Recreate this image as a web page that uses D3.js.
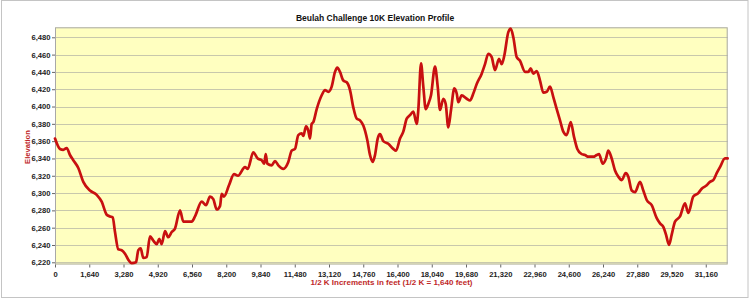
<!DOCTYPE html>
<html><head><meta charset="utf-8">
<script src="https://cdn.jsdelivr.net/npm/d3@7"></script>
<style>html,body{margin:0;padding:0;background:#fff;}svg{display:block;}</style>
</head><body>
<svg id="chart" width="750" height="299"></svg>
<script>
const title = "Beulah Challenge 10K Elevation Profile";
const xLabel = "1/2 K Increments in feet (1/2 K = 1,640 feet)";
const yLabel = "Elevation";
const xTicks = [0,1640,3280,4920,6560,8200,9840,11480,13120,14760,16400,18040,19680,21320,22960,24600,26240,27880,29520,31160];
const yTicks = [6220,6240,6260,6280,6300,6320,6340,6360,6380,6400,6420,6440,6460,6480];
const distance = [0,239,397,560,718,876,1116,1355,1676,1997,2236,2476,2634,2763,2873,3031,3193,3352,3510,3673,3878,3989,4103,4228,4391,4549,4707,4870,4994,5109,5267,5425,5588,5746,5986,6144,6546,6704,7025,7230,7422,7580,7743,7901,7982,8092,8331,8571,8763,9098,9227,9495,9706,9898,10022,10089,10166,10377,10534,10693,10932,11171,11334,11492,11650,11813,11890,12019,12129,12210,12291,12369,12531,12770,12929,13087,13249,13407,13518,13647,13805,13968,14126,14284,14447,14605,14763,14955,15083,15213,15323,15452,15562,15720,15960,16199,16328,16520,16678,16841,16999,17157,17319,17396,17526,17636,17751,17875,18004,18196,18325,18435,18593,18708,18833,18962,19120,19235,19312,19474,19714,19872,20030,20193,20432,20590,20748,20911,21069,21261,21390,21515,21706,21821,21946,22108,22266,22505,22663,22778,22903,23066,23224,23382,23545,23703,23861,24024,24181,24339,24502,24694,24852,25010,25220,25379,25537,25776,25939,26049,26226,26384,26494,26657,26815,26973,27136,27328,27452,27615,27773,28012,28170,28333,28572,28812,28970,29128,29257,29401,29530,29688,29927,30166,30324,30564,30803,30966,31205,31363,31521,31684,31842,32081,32210];
const elevation = [6363,6351,6350,6352,6344,6338,6329,6313,6303,6298,6290,6275,6273,6272,6255,6235,6234,6230,6223,6219,6220,6234,6236,6225,6226,6250,6245,6241,6247,6241,6256,6249,6255,6259,6280,6267,6267,6273,6290,6286,6296,6293,6281,6285,6299,6296,6309,6322,6320,6330,6328,6347,6340,6338,6334,6345,6334,6332,6337,6332,6328,6336,6349,6351,6367,6369,6366,6377,6372,6363,6380,6382,6397,6413,6419,6417,6423,6440,6445,6440,6430,6428,6419,6399,6386,6384,6378,6361,6344,6336,6344,6363,6368,6360,6357,6351,6349,6363,6371,6386,6390,6394,6380,6396,6450,6423,6397,6403,6413,6446,6423,6396,6409,6403,6376,6396,6421,6415,6405,6413,6409,6407,6415,6426,6438,6449,6461,6457,6442,6455,6449,6459,6486,6490,6480,6457,6453,6440,6440,6444,6438,6441,6430,6416,6417,6423,6411,6397,6384,6371,6367,6382,6365,6351,6345,6344,6342,6342,6344,6345,6334,6340,6349,6340,6326,6319,6315,6323,6319,6303,6301,6313,6303,6292,6286,6271,6265,6261,6252,6240,6252,6267,6273,6288,6277,6296,6300,6305,6309,6313,6315,6323,6330,6340,6340];

const svg = d3.select("#chart");
const plot = {left:55, right:727.7, top:27.3, bottom:264.5};
const x = d3.scaleLinear().domain([0,31160]).range([55, 705.75]);
const y = d3.scaleLinear().domain([6220,6480]).range([262.3, 37.3]);

svg.append("rect").attr("x",1.5).attr("y",0.5).attr("width",746.5).attr("height",297)
  .attr("fill","#fff").attr("stroke","#c4c4c4").attr("stroke-width",1);

svg.append("rect").attr("x",plot.left).attr("y",plot.top)
  .attr("width",plot.right-plot.left).attr("height",plot.bottom-plot.top)
  .attr("fill","#ffffc0");

svg.append("g").selectAll("line").data(yTicks).join("line")
  .attr("x1",plot.left).attr("x2",plot.right)
  .attr("y1",d=>Math.round(y(d))+0.5).attr("y2",d=>Math.round(y(d))+0.5)
  .attr("stroke","#c8c8ac").attr("stroke-width",1);

svg.append("rect").attr("x",plot.left+0.5).attr("y",plot.top+0.5)
  .attr("width",plot.right-plot.left-1).attr("height",plot.bottom-plot.top-1)
  .attr("fill","none").attr("stroke","#a8a8a8");

const font = "'Liberation Sans', Arial, sans-serif";
const yAxis = svg.append("g").attr("transform",`translate(${plot.left},0)`)
  .call(d3.axisLeft(y).tickValues(yTicks).tickSize(3).tickPadding(1.5).tickFormat(d3.format(",")));
const xAxis = svg.append("g").attr("transform",`translate(0,${plot.bottom})`)
  .call(d3.axisBottom(x).tickValues(xTicks).tickSize(3).tickPadding(4).tickFormat(d3.format(",")));
[yAxis,xAxis].forEach(g=>{
  g.select(".domain").remove();
  g.selectAll(".tick line").attr("stroke","#666");
  g.selectAll(".tick text").attr("fill","#222").attr("font-family",font)
    .attr("font-size","7.6px").attr("font-weight","bold");
});

const line = d3.line().x((d,i)=>x(distance[i])).y(d=>y(d)).curve(d3.curveMonotoneX);
svg.append("path").datum(elevation).attr("d",line)
  .attr("fill","none").attr("stroke","#c81010").attr("stroke-width",2.7)
  .attr("stroke-linejoin","round").attr("stroke-linecap","round");

svg.append("text").attr("x",375).attr("y",20.5).attr("text-anchor","middle")
  .attr("font-family",font).attr("font-size","8.5px").attr("font-weight","bold")
  .attr("fill","#111").text(title);

svg.append("text").attr("x",391.5).attr("y",285).attr("text-anchor","middle")
  .attr("font-family",font).attr("font-size","8px").attr("font-weight","bold")
  .attr("fill","#c02828").text(xLabel);

svg.append("text").attr("transform","translate(30,147) rotate(-90)").attr("text-anchor","middle")
  .attr("font-family",font).attr("font-size","7.6px").attr("font-weight","bold")
  .attr("fill","#c02828").text(yLabel);
</script>
</body></html>
